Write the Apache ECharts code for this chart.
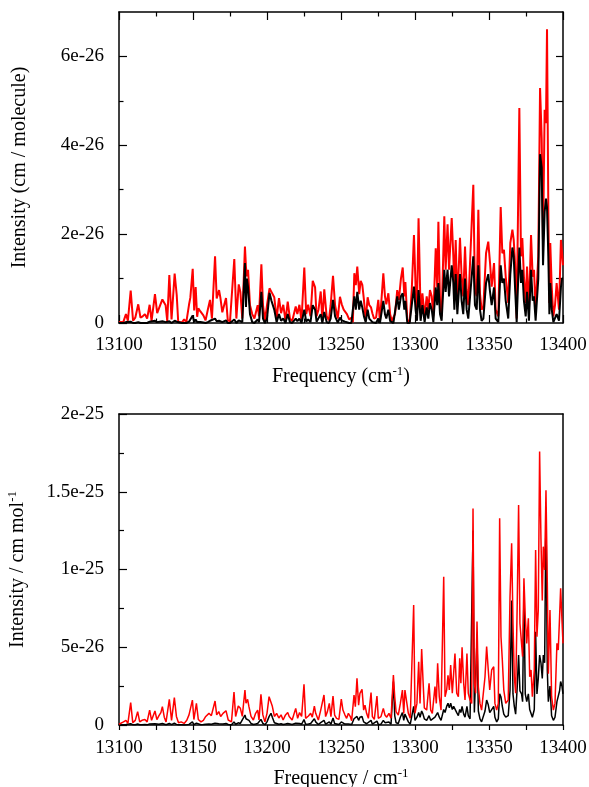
<!DOCTYPE html>
<html><head><meta charset="utf-8">
<script src="https://cdn.jsdelivr.net/npm/echarts@6/dist/echarts.min.js"></script>
<style>html,body{margin:0;padding:0;background:#fff}#c{width:589px;height:787px}</style>
</head><body><div id="c"></div>
<script>
// ---- Top panel (intensity in units of 1e-26 cm/molecule) ----
const topFreq = [13100,13103,13104.7,13106,13107.9,13109.5,13111,13113,13114.5,13116,13117.5,13119,13120.7,13122,13124.3,13125.8,13127,13129.3,13130.4,13131.5,13132.6,13134,13135.5,13137.6,13139,13140,13142.5,13144,13145.5,13147.3,13148.2,13149.8,13150.8,13151.8,13152.8,13153.6,13155,13156,13157,13158.5,13160,13161.5,13162.8,13164.9,13166,13167.6,13168.5,13169.8,13172.3,13173.5,13175,13176.3,13177.9,13179.3,13180.9,13182,13183.3,13185.1,13185.8,13186.4,13187.2,13188.5,13190,13191.5,13193.7,13194.6,13196.2,13197.3,13198.6,13200,13201.7,13203,13204.9,13206.5,13208.1,13209.5,13211,13212.5,13214,13215.5,13217,13219.4,13220.5,13221.9,13223.3,13225.2,13226.5,13227.8,13229.4,13230.9,13232.5,13233.5,13234.8,13236.3,13237.4,13238.7,13240.3,13241.8,13243,13244.6,13246,13247.8,13249.3,13250.5,13251.8,13252.7,13254,13255.5,13257,13258,13259,13260,13261,13262.3,13263.3,13264.4,13265.5,13266.7,13268,13269.1,13270.3,13271.2,13272.3,13273.7,13275.2,13276.3,13278.6,13279.7,13280.6,13282,13283.2,13284.3,13285.4,13286.5,13288,13289.1,13290.5,13291.7,13292.8,13293.5,13294.8,13296.4,13297.8,13299.3,13300.4,13301.3,13302.4,13303.8,13305,13306.5,13307.9,13309,13310.1,13311.3,13312.4,13314,13315,13315.8,13316.9,13318,13319.8,13320.7,13322,13323,13324.8,13325.9,13326.6,13327.5,13328.6,13330.4,13331.5,13332.6,13333.8,13334.9,13336,13337.2,13339.4,13340.5,13341.7,13342.8,13343.9,13345,13346.2,13348,13349.5,13350.7,13351.8,13353.4,13354.5,13356.3,13357.9,13359,13360.1,13361.3,13363,13364.4,13365.8,13366.7,13367.6,13368.7,13370.5,13371.6,13372.5,13373.6,13374.8,13375.7,13377,13378.4,13379.5,13380.4,13381.5,13383.3,13384.5,13385.6,13386.5,13387.6,13388.5,13389.2,13390.1,13390.8,13391.4,13392.4,13393.5,13394.6,13395.7,13397.3,13398.6,13399.3,13400];
const topRed = [0.02,0.03,0.2,0.05,0.73,0.05,0.12,0.42,0.12,0.15,0.2,0.1,0.41,0.05,0.65,0.22,0.18,0.53,0.54,0.4,0.04,1.08,0.08,1.11,0.63,0.03,0.01,0.08,0.02,0.41,0.57,1.22,0.28,0.81,0.14,0.33,0.26,0.23,0.17,0.06,0.3,0.52,0.1,1.5,0.55,0.74,0.57,0.24,0.56,0.06,0.04,0.02,1.44,0.1,0.87,0.7,0.1,1.72,1.25,1.05,1.2,0.4,0.2,0.1,0.4,0.15,1.32,0.4,0.05,0.4,0.78,0.7,0.58,0.1,0.56,0.22,0.41,0.05,0.48,0.1,0.04,0.37,0.2,0.41,0.05,1.25,0.2,0.41,0.15,0.95,0.8,0.15,0.3,0.71,0.05,0.76,0.15,0.06,0.4,1.06,0.4,0.1,0.59,0.42,0.3,0.28,0.2,0.08,0.12,0.02,1.12,0.85,1.27,0.65,0.95,0.86,0.52,0.05,0.58,0.4,0.35,0.22,0.1,0.12,0.52,0.03,1.12,0.6,0.42,0.67,0.2,0.05,0.03,0.2,0.74,0.52,1.0,1.25,0.6,0.92,0.07,0.03,0.74,1.98,0.8,0.3,2.36,0.22,0.67,0.15,0.6,0.3,0.74,0.6,0.15,1.68,0.8,2.28,0.5,0.15,2.4,1.2,2.22,1.2,2.36,1.5,0.75,1.87,0.45,1.92,1.04,0.6,1.72,0.75,0.4,0.37,3.11,0.75,0.6,2.55,0.67,0.3,0.37,1.57,1.83,1.35,0.82,1.35,0.3,0.15,2.61,1.57,1.65,1.04,0.45,1.8,2.1,1.87,1.35,0.1,4.84,1.5,1.91,1.04,0.45,1.27,0.3,1.98,1.04,1.2,0.3,1.5,5.29,4.16,1.8,4.8,4.5,6.61,2.5,0.45,1.8,0.8,0.15,0.4,0.9,0.3,1.87,1.6,1.3];
const topBlack = [0,0,0.02,0,0.03,0,0,0.02,0,0,0,0,0.03,0,0.05,0.02,0,0.04,0.05,0.02,0,0.04,0,0.05,0.03,0,0,0,0,0.03,0.05,0.17,0.02,0.08,0.02,0.04,0.02,0.02,0.01,0,0.02,0.05,0.01,0.1,0.04,0.05,0.03,0.02,0.06,0,0,0,0.08,0,0.06,0.05,0.02,1.35,0.36,1.0,0.8,0.2,0.02,0,0.08,0.02,0.7,0.1,0,0.1,0.68,0.5,0.3,0.02,0.2,0.05,0.1,0,0.2,0.02,0,0.1,0.04,0.1,0,0.3,0.03,0.08,0.02,0.4,0.3,0.03,0.05,0.2,0,0.25,0.02,0,0.1,0.52,0.15,0.01,0.12,0.06,0.04,0.03,0.02,0,0,0,0.6,0.3,0.7,0.3,0.5,0.35,0.15,0.02,0.3,0.1,0.08,0.02,0,0,0.1,0,0.5,0.2,0.1,0.3,0.04,0,0,0.02,0.6,0.3,0.6,0.67,0.3,0.5,0,0,0.4,0.82,0.3,0.05,0.74,0.05,0.4,0.02,0.35,0.1,0.45,0.3,0.02,0.8,0.4,0.9,0.2,0.05,1.2,0.7,1.2,0.6,1.3,0.9,0.3,1.1,0.2,1.1,0.5,0.2,1.0,0.3,0.1,0.1,1.5,0.4,0.3,1.3,0.3,0.05,0.1,0.9,1.1,0.7,0.4,0.8,0.1,0.02,1.3,0.9,1.0,0.5,0.1,1.1,1.7,1.5,0.8,0.02,1.7,0.9,1.2,0.5,0.15,0.7,0.05,1.2,0.5,0.6,0.05,1.0,3.8,3.5,1.3,2.5,2.8,2.6,1.5,0.2,0.9,0.3,0.02,0.05,0.2,0.05,0.8,1.0,1.0];

// ---- Bottom panel (intensity in units of 1e-26 cm mol^-1) ----
const botFreq = [13100,13103,13104.7,13106,13107.9,13109.3,13111,13112.6,13114,13115.5,13117.5,13119,13120.7,13122,13124.3,13125.6,13127,13128.3,13129.3,13130.6,13131.8,13134,13135.5,13137.4,13138.8,13140.2,13142,13144,13145.8,13147.3,13149.6,13150.6,13152.3,13153.6,13155.4,13157,13158.6,13160.8,13162.4,13164.9,13166,13167.4,13168.7,13170.3,13172.3,13173.8,13176,13177.7,13178.8,13180.6,13182,13183.3,13185.1,13185.8,13186.9,13187.8,13189.2,13190.8,13192.3,13193.7,13194.6,13195.9,13197.2,13198.6,13200,13201.4,13202.7,13203.6,13205,13206.5,13208,13209.5,13210.9,13212.5,13214,13215,13217,13219.4,13220.7,13222,13223.4,13225,13226.1,13228,13229.5,13230.6,13232,13232.9,13234.7,13236.3,13238.5,13239.6,13240.8,13242.1,13243.2,13244.6,13245.7,13247,13248.6,13250.2,13251.3,13252.7,13253.8,13255,13256.3,13257.2,13258.8,13259.7,13260.8,13261.9,13262.8,13264.2,13265.3,13266.2,13267.3,13268.5,13270.3,13271.2,13272.5,13274.3,13275.2,13277,13278.6,13279.7,13280.9,13282.4,13283.8,13285.4,13286.3,13287.2,13288.7,13290.1,13291.5,13292.4,13293.2,13294.4,13295.5,13296.8,13298.1,13299.1,13300,13301.3,13302.5,13303.4,13304.5,13305.4,13306.3,13307.9,13309.5,13310.6,13311.7,13313.5,13314.4,13315.3,13316.4,13317.6,13319.4,13320.3,13321.4,13322.3,13323.2,13324.1,13325.2,13326.1,13327,13328.2,13329.3,13330.2,13331,13331.8,13332.9,13333.8,13335.1,13336,13337.2,13338.3,13339.2,13340.1,13341,13341.9,13342.8,13343.9,13345,13346.2,13347.3,13348.4,13349.5,13350.5,13351.8,13353.2,13354,13355.2,13356.3,13357.2,13358.1,13359,13360,13361.3,13363,13364.2,13365.3,13366.2,13367.1,13368,13369.1,13370,13370.9,13372,13372.7,13373.6,13374.5,13375.5,13376.6,13377.5,13378.4,13379.3,13380.6,13381.5,13382.4,13383.3,13384.2,13385.1,13386,13386.7,13387.6,13388.5,13389.4,13390.1,13391.2,13392.3,13393.5,13394.6,13395.9,13396.8,13397.7,13398.4,13399.3,13400];
const botRed = [0.05,0.2,0.3,0.1,1.44,0.15,0.3,0.86,0.2,0.3,0.35,0.2,0.96,0.3,0.9,0.35,0.6,0.8,1.18,0.5,0.2,1.65,0.3,1.76,0.55,0.15,0.2,0.1,0.3,0.65,1.6,0.35,1.39,0.35,0.2,0.3,0.55,0.75,0.6,1.54,0.65,0.86,0.55,0.75,0.92,0.32,0.2,2.12,0.55,1.22,1.07,0.55,2.25,1.4,1.65,1.18,0.55,0.32,0.75,0.96,0.32,1.97,0.65,0.2,0.75,1.82,1.78,1.2,0.55,0.75,0.45,0.65,0.32,0.65,0.8,0.55,0.32,1.07,0.43,0.8,0.55,2.62,0.43,0.58,0.75,0.5,1.22,0.75,0.32,0.96,1.93,0.54,0.86,1.39,0.54,1.86,0.64,0.43,0.36,1.67,0.96,0.64,0.43,0.75,0.54,0.28,1.93,1.18,3.0,1.28,2.04,2.29,0.96,1.28,0.75,0.43,2.08,0.54,0.36,1.86,0.43,0.54,1.07,0.64,0.5,0.75,0.43,3.22,1.82,0.86,0.64,1.39,2.25,0.75,2.25,2.36,0.75,0.43,0.54,7.72,0.75,1.39,4.07,1.39,4.89,2.9,1.1,0.96,2.68,0.96,0.75,2.47,1.39,3.97,1.82,0.96,9.54,1.82,2.25,3.2,2.25,3.86,2.04,3.3,4.6,2.04,1.82,4.29,2.68,5.0,2.68,1.61,4.6,2.04,1.61,1.39,13.93,2.68,2.04,6.65,2.46,1.39,0.96,0.96,3.1,5.04,3.54,2.25,3.54,3.75,1.39,0.96,1.39,13.3,5.68,4.18,2.25,1.39,1.61,8.25,11.68,6.54,3.1,2.04,7.93,14.15,6.54,6.54,4.4,9.43,6.97,5.25,6.86,3.1,3.54,1.82,3.54,11.25,5.68,7.4,17.58,12.0,8.0,11.47,9.97,15.1,9.1,3.3,7.4,1.82,0.96,1.39,5.25,4.82,6.97,8.79,6.75,5.25];
const botBlack = [0,0.02,0.03,0.01,0.08,0.02,0.02,0.06,0.02,0.02,0.03,0.01,0.07,0.02,0.08,0.03,0.05,0.06,0.1,0.04,0.02,0.1,0.02,0.12,0.04,0.01,0.02,0,0.02,0.04,0.2,0.03,0.12,0.03,0.02,0.03,0.05,0.06,0.05,0.12,0.06,0.08,0.05,0.06,0.1,0.03,0.02,0.2,0.05,0.14,0.1,0.05,0.64,0.4,0.5,0.3,0.1,0.03,0.06,0.1,0.03,0.36,0.1,0.02,0.2,0.54,0.75,0.5,0.15,0.1,0.05,0.08,0.03,0.06,0.1,0.05,0.03,0.12,0.05,0.1,0.05,0.35,0.05,0.07,0.1,0.06,0.4,0.2,0.03,0.15,0.3,0.05,0.08,0.2,0.05,0.45,0.1,0.05,0.03,0.2,0.1,0.06,0.04,0.06,0.04,0.03,0.4,0.3,0.55,0.3,0.5,0.55,0.2,0.15,0.08,0.04,0.3,0.05,0.03,0.25,0.04,0.05,0.3,0.15,0.08,0.2,0.05,2.8,0.6,0.15,0.1,0.5,0.8,0.3,0.7,0.8,0.2,0.05,0.1,1.2,0.3,0.5,0.8,0.5,0.9,0.7,0.4,0.3,0.6,0.3,0.2,0.5,0.4,0.8,0.5,0.3,1.0,0.8,1.2,1.4,1.1,1.4,1.0,1.2,1.3,0.8,0.6,1.0,0.8,1.2,0.7,0.5,1.2,0.6,0.4,0.4,12.5,0.8,0.7,5.5,0.9,0.4,0.2,0.3,0.9,1.6,1.3,0.8,0.8,1.2,0.5,0.2,0.4,2.0,1.8,1.2,0.7,0.5,0.6,2.2,8.0,2.0,1.2,0.7,2.5,4.5,2.2,2.0,1.5,8.5,2.0,1.5,2.0,1.0,1.0,0.5,1.0,6.0,2.0,3.0,4.5,4.0,3.0,4.5,4.0,14.0,3.5,1.5,2.5,0.6,0.3,0.5,1.5,1.6,2.2,2.8,2.5,2.0];

// ---- Axis ticks & labels ----
const freqTicks = [13100,13150,13200,13250,13300,13350,13400];
const topYMajor = [0,2,4,6];
const topYMinor = [1,3,5];
const topYLabels = ['0','2e-26','4e-26','6e-26'];
const botYMajor = [0,5,10,15,20];
const botYLabels = ['0','5e-26','1e-25','1.5e-25','2e-25'];

const FONT = 'Liberation Serif';
const BLACK = '#000';
function pairs(xs, ys) { return xs.map((x, i) => [x, ys[i]]); }
function lab(values, labels) { return v => { const i = values.indexOf(v); return i >= 0 ? labels[i] : ''; }; }
const line = { show: true, onZero: false, lineStyle: { color: BLACK, width: 1.5 } };
const noLine = { show: false };
const tickStyle = { color: BLACK, width: 1.2 };
const lblStyle = { color: BLACK, fontFamily: FONT, fontSize: 19 };
const nameRich = {
  a: { fontFamily: FONT, fontSize: 20, color: BLACK, lineHeight: 24 },
  s: { fontFamily: FONT, fontSize: 13, color: BLACK, verticalAlign: 'top', lineHeight: 14 }
};

const chart = echarts.init(document.getElementById('c'), null, { renderer: 'canvas' });
chart.setOption({
  animation: false,
  backgroundColor: '#fff',
  grid: [
    { left: 119, top: 12, width: 444, height: 311, outerBoundsMode: 'none', containLabel: false },
    { left: 119, top: 414, width: 444, height: 311, outerBoundsMode: 'none', containLabel: false }
  ],
  xAxis: [
    { gridIndex: 0, type: 'value', min: 13100, max: 13400, interval: 50, position: 'bottom',
      axisLine: line, splitLine: { show: false },
      axisTick: { show: true, inside: true, length: 8, lineStyle: tickStyle },
      minorTick: { show: true, splitNumber: 2, length: 4.5, lineStyle: tickStyle },
      axisLabel: Object.assign({ margin: 13, formatter: lab(freqTicks, freqTicks.map(String)) }, lblStyle),
      name: '{a|Frequency (cm}{s|-1}{a|)}', nameLocation: 'middle', nameGap: 42,
      nameTextStyle: { rich: nameRich } },
    { gridIndex: 0, type: 'value', min: 13100, max: 13400, interval: 50, position: 'top',
      axisLine: line, splitLine: { show: false },
      axisTick: { show: true, inside: true, length: 8, lineStyle: tickStyle },
      minorTick: { show: true, splitNumber: 2, length: 4.5, lineStyle: tickStyle },
      axisLabel: { show: false } },
    { gridIndex: 1, type: 'value', min: 13100, max: 13400, interval: 50, position: 'bottom',
      axisLine: line, splitLine: { show: false },
      axisTick: { show: true, inside: false, length: 5, lineStyle: tickStyle },
      minorTick: { show: true, splitNumber: 2, length: 5, lineStyle: tickStyle },
      axisLabel: Object.assign({ margin: 14, formatter: lab(freqTicks, freqTicks.map(String)) }, lblStyle),
      name: '{a|Frequency / cm}{s|-1}', nameLocation: 'middle', nameGap: 42,
      nameTextStyle: { rich: nameRich } },
    { gridIndex: 1, type: 'value', min: 13100, max: 13400, interval: 50, position: 'top',
      axisLine: line, splitLine: { show: false }, axisTick: { show: false }, axisLabel: { show: false } }
  ],
  yAxis: [
    { gridIndex: 0, type: 'value', min: 0, max: 7, position: 'left',
      axisLine: line, splitLine: { show: false },
      axisTick: { show: true, inside: true, length: 8, lineStyle: tickStyle, customValues: topYMajor },
      axisLabel: Object.assign({ margin: 15, customValues: topYMajor, formatter: lab(topYMajor, topYLabels) }, lblStyle),
      name: 'Intensity (cm / molecule)', nameLocation: 'middle', nameGap: 89,
      nameTextStyle: { fontFamily: FONT, fontSize: 20, color: BLACK } },
    { gridIndex: 0, type: 'value', min: 0, max: 7, position: 'left',
      axisLine: noLine, splitLine: { show: false },
      axisTick: { show: true, inside: true, length: 4.5, lineStyle: tickStyle, customValues: topYMinor },
      axisLabel: { show: false } },
    { gridIndex: 0, type: 'value', min: 0, max: 7, position: 'right',
      axisLine: line, splitLine: { show: false },
      axisTick: { show: true, inside: true, length: 7, lineStyle: tickStyle, customValues: [1,2,3,4,5,6] },
      axisLabel: { show: false } },
    { gridIndex: 1, type: 'value', min: 0, max: 20, interval: 5, position: 'left',
      axisLine: line, splitLine: { show: false },
      axisTick: { show: true, inside: true, length: 8, lineStyle: tickStyle },
      minorTick: { show: true, splitNumber: 2, length: 5, lineStyle: tickStyle },
      axisLabel: Object.assign({ margin: 15, formatter: lab(botYMajor, botYLabels) }, lblStyle),
      name: '{a|Intensity / cm mol}{s|-1}', nameLocation: 'middle', nameGap: 89,
      nameTextStyle: { rich: nameRich } },
    { gridIndex: 1, type: 'value', min: 0, max: 20, position: 'right',
      axisLine: line, splitLine: { show: false }, axisTick: { show: false }, axisLabel: { show: false } }
  ],
  series: [
    { type: 'line', xAxisIndex: 0, yAxisIndex: 0, data: pairs(topFreq, topRed), showSymbol: false, symbol: 'none',
      lineStyle: { color: '#ff0000', width: 2 }, z: 2 },
    { type: 'line', xAxisIndex: 0, yAxisIndex: 0, data: pairs(topFreq, topBlack), showSymbol: false, symbol: 'none',
      lineStyle: { color: '#000000', width: 2 }, z: 3 },
    { type: 'line', xAxisIndex: 2, yAxisIndex: 3, data: pairs(botFreq, botBlack), showSymbol: false, symbol: 'none',
      lineStyle: { color: '#000000', width: 1.5 }, z: 2 },
    { type: 'line', xAxisIndex: 2, yAxisIndex: 3, data: pairs(botFreq, botRed), showSymbol: false, symbol: 'none',
      lineStyle: { color: '#ff0000', width: 1.5 }, z: 3 }
  ]
});
</script>
</body></html>
